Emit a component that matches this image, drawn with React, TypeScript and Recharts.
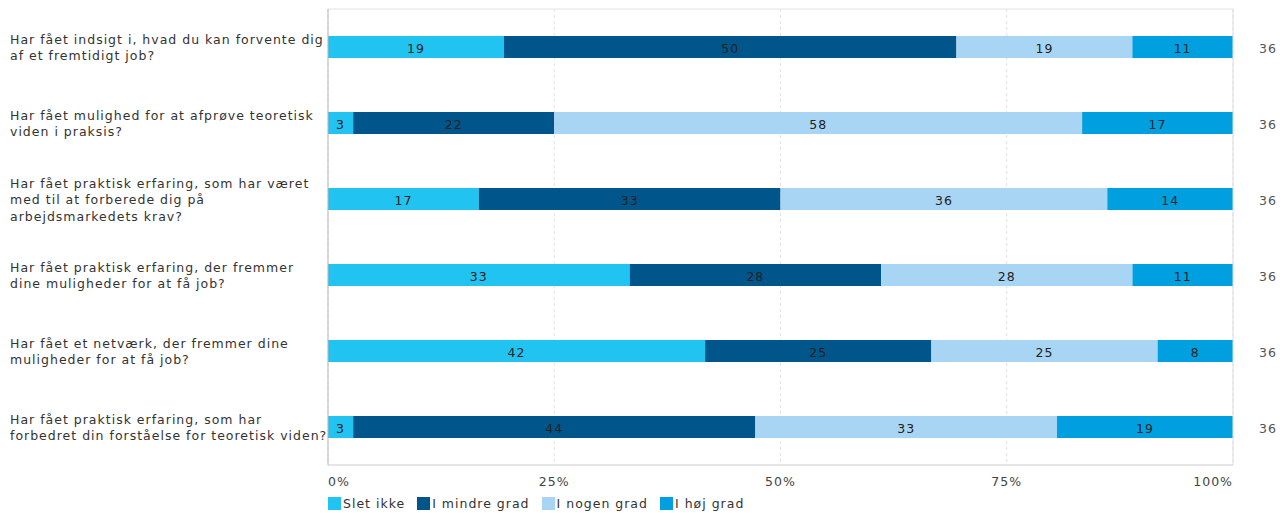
import React from "react";
import {
  BarChart,
  Bar,
  XAxis,
  YAxis,
  CartesianGrid,
  LabelList,
  Legend,
  ReferenceLine,
} from "recharts";

const questions = [
  "Har fået indsigt i, hvad du kan forvente dig|af et fremtidigt job?",
  "Har fået mulighed for at afprøve teoretisk|viden i praksis?",
  "Har fået praktisk erfaring, som har været|med til at forberede dig på|arbejdsmarkedets krav?",
  "Har fået praktisk erfaring, der fremmer|dine muligheder for at få job?",
  "Har fået et netværk, der fremmer dine|muligheder for at få job?",
  "Har fået praktisk erfaring, som har|forbedret din forståelse for teoretisk viden?",
];
const sletIkke = [19.44, 2.78, 16.67, 33.33, 41.67, 2.78];
const mindreGrad = [50.0, 22.22, 33.33, 27.78, 25.0, 44.44];
const nogenGrad = [19.44, 58.33, 36.11, 27.78, 25.0, 33.33];
const hoejGrad = [11.11, 16.67, 13.89, 11.11, 8.33, 19.44];
const totals = [36, 36, 36, 36, 36, 36];
const xTicks = [0, 25, 50, 75, 100];

const seriesNames = ["Slet ikke", "I mindre grad", "I nogen grad", "I høj grad"];
const seriesKeys = ["s1", "s2", "s3", "s4"];
const colors = ["#21c3f1", "#00558a", "#a9d5f5", "#00a0e0"];

const data = questions.map((q, i) => ({
  q,
  s1: sletIkke[i],
  s2: mindreGrad[i],
  s3: nogenGrad[i],
  s4: hoejGrad[i],
  n: totals[i],
}));

const FONT = "'DejaVu Sans', Verdana, sans-serif";
const FS = 12.5;
const LS = 1;

const YTick = (props: any) => {
  const { y, payload } = props;
  const lines = String(payload.value).split("|");
  const lh = 16.5;
  const start = y - ((lines.length - 1) * lh) / 2;
  return (
    <text x={10} y={start} fontFamily={FONT} fontSize={FS} letterSpacing={LS} fill="#333" textAnchor="start" dominantBaseline="central">
      {lines.map((l: string, k: number) => (
        <tspan key={k} x={2} y={start + k * lh} dominantBaseline="central">
          {l}
        </tspan>
      ))}
    </text>
  );
};

const XTick = (props: any) => {
  const { x, y, payload } = props;
  const v = payload.value;
  const anchor = v === 0 ? "start" : v === 100 ? "end" : "middle";
  return (
    <text x={x} y={y + 8} fontFamily={FONT} fontSize={FS} letterSpacing={LS} fill="#444" textAnchor={anchor} dominantBaseline="central">
      {v + "%"}
    </text>
  );
};

const ValueLabel = (props: any) => {
  const { x, y, width, height, value } = props;
  return (
    <text
      x={x + width / 2}
      y={y + height / 2 + 1}
      fontFamily={FONT}
      fontSize={FS}
      letterSpacing={LS}
      fill="#222"
      textAnchor="middle"
      dominantBaseline="central"
    >
      {Math.round(value)}
    </text>
  );
};

const TotalLabel = (props: any) => {
  const { x, y, width, height, index } = props;
  return (
    <text
      x={x + width + 35}
      y={y + height / 2 + 1}
      fontFamily={FONT}
      fontSize={FS}
      letterSpacing={LS}
      fill="#555"
      textAnchor="middle"
      dominantBaseline="central"
    >
      {totals[index]}
    </text>
  );
};

const LegendContent = () => (
  <div
    style={{
      display: "flex",
      paddingLeft: 320,
      paddingTop: 8,
      fontFamily: FONT,
      fontSize: FS,
      letterSpacing: LS,
      color: "#333",
      alignItems: "center",
    }}
  >
    {seriesNames.map((name, i) => (
      <div key={name} style={{ display: "flex", alignItems: "center", marginRight: 12 }}>
        <span style={{ display: "inline-block", width: 13, height: 13, background: colors[i], marginRight: 2 }} />
        <span>{name}</span>
      </div>
    ))}
  </div>
);

export default function App() {
  return (
    <BarChart
      width={1272}
      height={505}
      data={data}
      layout="vertical"
      margin={{ top: 0, right: 47, bottom: 0, left: 0 }}
      barCategoryGap={27}
    >
      <CartesianGrid horizontal={false} vertical={true} stroke="#e2e2e2" strokeDasharray="3 3" />
      <XAxis
        type="number"
        domain={[0, 100]}
        ticks={xTicks}
        tick={<XTick />}
        tickLine={false}
        axisLine={{ stroke: "#ccc" }}
        height={23}
        allowDataOverflow
      />
      <XAxis
        xAxisId="top"
        orientation="top"
        type="number"
        domain={[0, 100]}
        tick={false}
        tickLine={false}
        axisLine={{ stroke: "#e2e2e2" }}
        height={1}
        allowDataOverflow
      />
      <YAxis
        type="category"
        dataKey="q"
        width={320}
        tick={<YTick />}
        tickLine={false}
        axisLine={{ stroke: "#b5b5b5" }}
        interval={0}
      />
      <ReferenceLine x={100} stroke="#dcdcdc" />
      {seriesKeys.map((k, i) => (
        <Bar key={k} dataKey={k} stackId="a" fill={colors[i]} isAnimationActive={false} name={seriesNames[i]}>
          <LabelList dataKey={k} content={<ValueLabel />} />
          {i === 3 ? <LabelList dataKey={k} content={<TotalLabel />} /> : null}
        </Bar>
      ))}
      <Legend verticalAlign="bottom" height={25} content={<LegendContent />} />
    </BarChart>
  );
}
